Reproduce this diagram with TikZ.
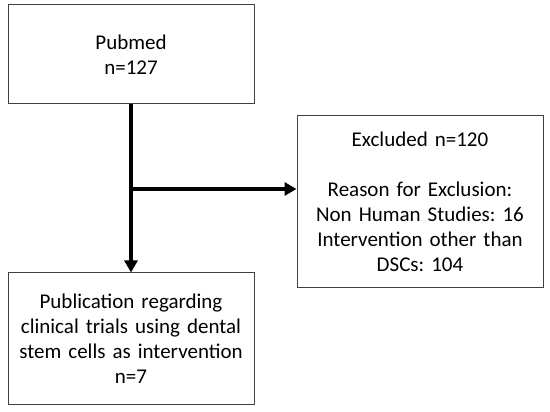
\documentclass[tikz,border=0pt]{standalone}
\usepackage{fontspec}
\setmainfont{Carlito}[WordSpace=0.8]
\usepackage{tikz}
\usetikzlibrary{calc,positioning,arrows.meta}
\definecolor{borda}{HTML}{404040}
\definecolor{texto}{HTML}{000000}
\frenchspacing

\begin{document}
\begin{tikzpicture}[x=1pt,y=1pt,
    caixa/.style={draw=borda, line width=1pt, fill=white, text=texto,
      minimum width=246pt, minimum height=#1, text width=240pt, align=center, inner sep=0pt,
      font=\fontsize{21}{25}\selectfont},
    seta/.style={-{Triangle[length=12pt,width=13pt]}, line width=4pt, black}]
  \useasboundingbox (0,0) rectangle (550,412);
  \node[caixa=99pt] (pub) at (131,357.5) {Pubmed\\n=127};
  \node[caixa=172pt] (exc) at (420,210) {Excluded n=120\\[25pt]Reason for Exclusion:\\Non Human Studies: 16\\Intervention other than\\DSCs: 104};
  \node[caixa=132pt] (sel) at (131,73) {Publication regarding\\clinical trials using dental\\stem cells as intervention\\n=7};
  \coordinate (ramo) at (pub.south |- 0,223);
  \draw[seta] (pub.south) -- (sel.north);
  \draw[seta] (ramo) -- (ramo -| exc.west);
\end{tikzpicture}
\end{document}
